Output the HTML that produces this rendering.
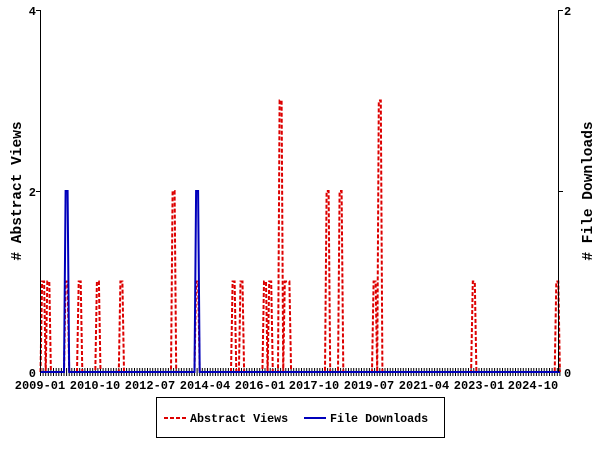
<!DOCTYPE html>
<html><head><style>
body{margin:0;background:#fff;}
svg{display:block;font-family:"Liberation Mono","DejaVu Sans Mono",monospace;font-weight:bold;}
</style></head><body>
<svg id="s" width="600" height="450" viewBox="0 0 600 450" xmlns="http://www.w3.org/2000/svg">
<rect width="600" height="450" fill="#fff"/>
<g id="ticks" stroke="#000" stroke-width="1"></g>
<polyline id="red" fill="none" stroke="#dd0000" stroke-width="2" stroke-dasharray="4,2"/>
<polyline id="blue" fill="none" stroke="#0000bb" stroke-width="2"/>
<line x1="40.5" y1="10" x2="40.5" y2="372" stroke="#000"/>
<line x1="558.5" y1="10" x2="558.5" y2="372" stroke="#000"/>
<line x1="36" y1="10.5" x2="40" y2="10.5" stroke="#000"/>
<line x1="36" y1="191.5" x2="40" y2="191.5" stroke="#000"/>
<line x1="559" y1="10.5" x2="563" y2="10.5" stroke="#000"/>
<line x1="559" y1="191.5" x2="563" y2="191.5" stroke="#000"/>
<g font-size="12" fill="#000">
<text x="36" y="15" text-anchor="end">4</text>
<text x="36" y="196" text-anchor="end">2</text>
<text x="36" y="377" text-anchor="end">0</text>
<text x="564" y="15">2</text>
<text x="564" y="377">0</text>
<g text-anchor="middle">
<text x="40" y="389">2009-01</text>
<text x="95" y="389">2010-10</text>
<text x="150" y="389">2012-07</text>
<text x="205" y="389">2014-04</text>
<text x="260" y="389">2016-01</text>
<text x="314" y="389">2017-10</text>
<text x="369" y="389">2019-07</text>
<text x="424" y="389">2021-04</text>
<text x="479" y="389">2023-01</text>
<text x="533" y="389">2024-10</text>
</g>
<text transform="translate(21,191) rotate(-90)" text-anchor="middle" font-size="14.5"># Abstract Views</text>
<text transform="translate(592,191) rotate(-90)" text-anchor="middle" font-size="14.5"># File Downloads</text>
</g>
<rect x="156.5" y="397.5" width="288" height="40" fill="none" stroke="#000"/>
<line x1="164" y1="418" x2="186" y2="418" stroke="#dd0000" stroke-width="2" stroke-dasharray="4,2"/>
<line x1="304" y1="418" x2="326" y2="418" stroke="#0000bb" stroke-width="2"/>
<text x="190" y="422" font-size="11.7">Abstract Views</text>
<text x="330" y="422" font-size="11.7">File Downloads</text>
</svg>
<script>
var px=2.61,x0=40.5,N=199;
function X(m){return x0+m*px;}
var red={1:1,3:1,10:1,15:1,22:1,31:1,51:2,60:1,74:1,77:1,86:1,88:1,92:3,94:1,95:1,110:2,115:2,128:1,130:3,166:1,198:1};
var blue={10:1,60:1};
var r=[],b=[],t="";
for(var m=0;m<=N;m++){
 var x=X(m);
 var rv=red[m]||0, bv=blue[m]||0;
 if(rv){r.push((x-1).toFixed(1)+","+(372-rv*90.5).toFixed(1));r.push((x+1).toFixed(1)+","+(372-rv*90.5).toFixed(1));}
 else r.push(x.toFixed(1)+",372");
 if(bv){b.push((x-1).toFixed(1)+","+(372-bv*181).toFixed(1));b.push((x+1).toFixed(1)+","+(372-bv*181).toFixed(1));}
 else b.push(x.toFixed(1)+",372");
 t+='<line x1="'+x.toFixed(1)+'" y1="368" x2="'+x.toFixed(1)+'" y2="376"/>';
}
document.getElementById("red").setAttribute("points",r.join(" "));
document.getElementById("blue").setAttribute("points",b.join(" "));
document.getElementById("ticks").innerHTML=t;
</script>
</body></html>
